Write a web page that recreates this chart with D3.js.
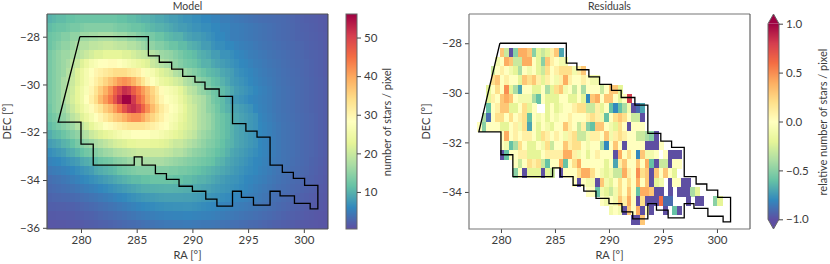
<!DOCTYPE html>
<html><head><meta charset="utf-8">
<script src="https://cdn.jsdelivr.net/npm/d3@7"></script>
<style>
html,body{margin:0;padding:0;background:#fff}
svg{display:block}
text{font-family:Lato,"Noto Sans",sans-serif;fill:#3c3c3c}
</style></head><body><svg id="c" width="830" height="264"></svg>
<script>
const spectralR=["#5e4fa2","#3288bd","#66c2a5","#abdda4","#e6f598","#ffffbf","#fee08b","#fdae61","#f46d43","#d53e4f","#9e0142"];
const raTicks=[280,285,290,295,300];
const decTicks=[-28,-30,-32,-34,-36];
const residDecTicks=[-28,-30,-32,-34];
const modelCbarTicks=[10,20,30,40,50];
const residCbarTicks=[-1,-0.5,0,0.5,1];
const footprintRA=[279.9,286.05,286.05,287.03,287.03,288.14,288.14,289.13,289.13,290.23,290.23,291.13,291.13,292.4,292.4,293.6,293.6,294.8,294.8,295.8,295.8,296.97,296.97,298.07,298.07,299.06,299.06,300.07,300.07,301.26,301.26,300.57,300.57,299.16,299.16,297.87,297.87,296.97,296.97,295.48,295.48,294.4,294.4,293.6,293.6,292.2,292.2,291.2,291.2,290.0,290.0,288.8,288.8,287.67,287.67,286.68,286.68,285.48,285.48,284.78,284.78,281.1,281.1,280,280,277.95,279.9];
const footprintDec=[-28,-28,-28.8,-28.8,-29.07,-29.07,-29.36,-29.36,-29.66,-29.66,-29.9,-29.9,-30.19,-30.19,-30.5,-30.5,-31.64,-31.64,-31.95,-31.95,-32.2,-32.2,-33.38,-33.38,-33.68,-33.68,-33.93,-33.93,-34.22,-34.22,-35.21,-35.21,-34.98,-34.98,-34.66,-34.66,-34.47,-34.47,-35.05,-35.05,-34.73,-34.73,-34.47,-34.47,-35.09,-35.09,-34.8,-34.8,-34.47,-34.47,-34.26,-34.26,-33.97,-33.97,-33.73,-33.73,-33.38,-33.38,-33.03,-33.03,-33.38,-33.38,-32.5,-32.5,-31.58,-31.58,-28];
const pixelRA=0.42, pixelDec=0.375, gridRA0=276.95, gridDec0=-27.05;
const modelCounts=[
[10,10.5,11,11,11.5,11.5,12,12,12,12,12,12,12,12,12,11.5,11.5,11,11,10.5,10,10,9.5,9,9,8.5,8,8,7.5,7,7,6.5,6.5,6,6,5.5,5.5,5,5,4.7,4.5,4.3,4.1,3.9,3.7,3.5,3.4,3.3,3.2,3.1,3,2.8,2.6,2.4,2.2,2,1.9,1.8,1.6,1.5],
[11,11.5,12,12,12.5,13,13,13.5,14,14,14,14,14,14,13.5,13,13,12.5,12,12,11.5,11,10.5,10,10,9.5,9,8.5,8,8,7.5,7,7,6.5,6.5,6,6,5.5,5.5,5,5,4.8,4.6,4.4,4.2,4,3.8,3.6,3.4,3.2,3,2.9,2.7,2.5,2.3,2.2,2,1.9,1.7,1.5],
[12,12.5,13,14,14,15,15,16,16,16.5,16.5,17,17,17,16.5,16,16,15,15,14,13.5,13,13,12,12,11,10.5,10,10,9,8.5,8,8,7.5,7,6.5,6,6,5.5,5,5,4.8,4.6,4.4,4.2,4,3.8,3.6,3.4,3.2,3,2.9,2.7,2.5,2.4,2.3,2.1,2,1.8,1.6],
[12,13,14,15,15,16,17,18,18,19,19,19.5,20,20,19.5,19,19,18,18,17,16,15,15,14,14,13,12,12,11,11,10,9.5,9,8,8,7,6.5,6.5,6,6,5.5,5.2,5,4.8,4.5,4.2,4,3.8,3.6,3.4,3.2,3,2.9,2.7,2.6,2.4,2.2,2.1,1.9,1.6],
[13,14,15,16,16,17,18,19,20,21,22,22,23,23,23,23,22,22,21,20,19.5,19,18,17,16,15.5,15,14,13,12,11.5,11,10,9.5,9,8,8,7,7,6.5,6,5.7,5.4,5,4.8,4.5,4.3,4,3.8,3.6,3.4,3.2,3,2.8,2.7,2.5,2.3,2.2,2,1.7],
[13,14,15,16,17,18.5,20,22,24,26,27,28,28.5,29,29,28,27,26,25,24,23,22,20,19,18,17,16,15,14,13,12.5,12,11,10,10,9,8.5,8,7.5,7,6.5,6,5.8,5.4,5,4.8,4.5,4.2,4,3.8,3.5,3.3,3.1,2.9,2.8,2.6,2.4,2.2,2,1.7],
[13,14,15,16,18,19.5,22,24,26,28,30,31,32,33,34,34,34,33,32,31,29,27,26,24,22,21,20,18,17,16,15,14,13,12,11,10.5,10,9,8.5,8,7,6.5,6.2,5.8,5.4,5,4.7,4.4,4.2,3.9,3.6,3.4,3.2,3,2.8,2.6,2.4,2.2,2,1.7],
[13,14,15,17,18,20,22,24,26,29,31,33,35,37,39,41,42,41,39,36,33,30,28,26,24,23,22,21,20,18,17,16,15,14,13,11.5,11,10,9,8,7.5,7,6.5,6,5.6,5.2,4.9,4.6,4.3,4,3.7,3.5,3.3,3.1,2.9,2.7,2.5,2.3,2.1,1.8],
[13,14,15,17,19,20.5,23,25,27,30,33,36,39,42,46,49,52,51,47,44,41,38,35,32,29,27,26,25,23,21,19,18,16,15,14,12.5,12,11,10,9,8,7.5,7,6.5,6,5.5,5.2,4.8,4.4,4.1,3.8,3.6,3.4,3.1,2.9,2.7,2.5,2.3,2.1,1.8],
[13,14,15,17,19,21,23,25,28,31,34,38,41,44,48,52,56,56,51,46,43,39,36,33,30,28,27,26,24,22,20.5,19,18,17,15,13,12,11,9.5,8,7.5,7,6.5,6,5.7,5.4,5.1,4.8,4.4,4.1,3.8,3.6,3.4,3.1,2.9,2.7,2.5,2.3,2.1,1.8],
[12.5,14,15,16,18,20,22,24,26,29,31,33,36,38,41,44,48,51,52,50,46,42,38,35,32,30,28,27,25,23,21,20,18,17,15,14,12.5,11,10,9,8.5,8,7.5,7,6,5.5,5.2,4.8,4.4,4.1,3.8,3.6,3.4,3.1,2.9,2.7,2.5,2.3,2.1,1.8],
[12,13,14,15,16.5,18.5,20,22,24,26,28,30,32,34,36,37,39,41,42,42,40,37,35,33,31,29,27,26,24,22.5,21,20,18,17,16,14.5,13,12,11,10,9,8.5,8,7.5,7,5.8,5.4,5,4.6,4.2,3.9,3.7,3.5,3.2,3,2.8,2.6,2.4,2.1,1.8],
[11,12,13,14,15,16,18,19,21,23,25,26,28,29,30,31,32,33,33,33,33,32,31,30,29,28,26,25,23,22,21,20,18,17,16,14.5,13,12,11,10,9,8.5,8,7.5,7,6,5.6,5.2,4.8,4.4,4,3.8,3.6,3.3,3,2.8,2.6,2.4,2.1,1.8],
[9.5,10.5,11,12,13,14,15,17,18,20,21,22,23,24,25,26,27,27,28,28,28,28,27,27,26,25,24,23,22,21,20,19,17,16,15,14,13,12,11,10,9,8.5,8,7.5,7,6,5.6,5.2,4.8,4.4,4,3.8,3.6,3.3,3,2.8,2.6,2.4,2.1,1.8],
[8,8.5,9,10,10.5,11.5,13,14,15,16,17,18,19,20,21,21.5,22,23,23,23.5,23.5,23.5,23,23,22.5,22,21,20,20,19,18,17,16,15,14,13.5,12.5,11.5,10.5,10,9,8.5,8,7.5,7,6,5.6,5.2,4.8,4.4,4,3.8,3.6,3.3,3,2.8,2.6,2.4,2.1,1.8],
[6.5,7,7.5,8,9,9.5,10.5,11.5,12.5,13,14,15,16,16.5,17.5,18,18.5,19,19.5,20,20,20,20,20,20,19.5,19,18,18,17,16,15,14.5,14,13,12.5,11.5,11,10,9,8.5,8,7.5,7,6.5,6,5.6,5.2,4.8,4.4,4,3.8,3.6,3.3,3,2.8,2.6,2.4,2.1,1.8],
[5.5,5.8,6,6.5,7,7.5,8,9,9.5,10,11,12,12.5,13,14,14.5,15,16,16,16.5,17,17,17,17,17,16.5,16,15.5,15,14.5,14,13.5,13,12.5,12,11.5,10.5,10,9,8.5,8,7.5,7,6.5,6,5.8,5.4,5,4.6,4.3,4,3.8,3.5,3.2,3,2.8,2.5,2.3,2,1.7],
[4.5,4.8,5,5.3,5.6,6,6.5,7,7.5,8,9,9.5,10,10.5,11,12,12.5,13,13.5,14,14,14,14,14,14,14,13.5,13.5,13,13,12.5,12,11.5,11,10.5,10,9.5,9,8.5,8,7.5,7,6.5,6.3,6,5.5,5.2,4.8,4.4,4.1,3.8,3.6,3.3,3.1,2.9,2.7,2.4,2.2,1.9,1.6],
[3.5,3.8,4,4.3,4.6,5,5.4,5.8,6.2,6.6,7,7.5,8,8.5,9,9.5,10,10.5,11,11,11.5,11.5,12,12,12,12,12,11.5,11.5,11,11,10.5,10,10,9.5,9,8.5,8,7.5,7.2,7,6.5,6,5.8,5.5,5.2,4.9,4.5,4.2,3.9,3.6,3.4,3.1,2.9,2.7,2.5,2.3,2,1.8,1.5],
[3,3.2,3.4,3.6,3.8,4,4.3,4.6,4.9,5.2,5.5,5.9,6.3,6.7,7.1,7.5,7.9,8.3,8.7,9.1,9.5,9.6,9.7,9.8,9.9,10,10,9.9,9.8,9.6,9.5,9.2,9,8.7,8.4,8,7.7,7.4,7.1,6.8,6.5,6.2,5.8,5.5,5.1,4.8,4.5,4.2,3.9,3.6,3.4,3.2,2.9,2.7,2.5,2.3,2.1,1.9,1.6,1.4],
[2.5,2.6,2.7,2.8,2.9,3,3.2,3.5,3.7,4,4.2,4.5,4.8,5.1,5.5,5.8,6.1,6.5,6.8,7.2,7.5,7.7,7.8,8,8.2,8.3,8.3,8.3,8.3,8.2,8.2,8,7.8,7.5,7.3,7,6.8,6.5,6.3,6,5.8,5.5,5.3,5,4.8,4.5,4.2,3.9,3.6,3.4,3.1,2.9,2.7,2.4,2.2,2,1.8,1.6,1.5,1.3],
[2,2,2.1,2.1,2.2,2.2,2.4,2.6,2.8,3,3.2,3.5,3.7,4,4.2,4.5,4.8,5.1,5.4,5.7,6,6.2,6.3,6.5,6.6,6.8,6.8,6.9,6.9,7,7,6.8,6.6,6.4,6.2,6,5.8,5.6,5.4,5.2,5,4.8,4.6,4.4,4.2,4,3.8,3.5,3.3,3,2.8,2.6,2.4,2.2,2,1.8,1.7,1.5,1.4,1.2],
[1.5,1.5,1.6,1.6,1.7,1.7,1.9,2,2.2,2.3,2.5,2.7,2.9,3.1,3.3,3.5,3.7,4,4.2,4.5,4.7,4.9,5,5.2,5.3,5.5,5.5,5.6,5.6,5.7,5.7,5.6,5.5,5.4,5.3,5.2,5,4.8,4.6,4.5,4.3,4.1,3.9,3.8,3.6,3.4,3.2,3,2.8,2.6,2.4,2.2,2.1,1.9,1.8,1.6,1.5,1.3,1.2,1.1],
[1.2,1.2,1.3,1.3,1.4,1.4,1.5,1.6,1.8,1.9,2,2.2,2.3,2.5,2.6,2.8,3,3.2,3.3,3.5,3.7,3.9,4,4.2,4.3,4.5,4.5,4.6,4.6,4.7,4.7,4.6,4.5,4.4,4.4,4.3,4.2,4,3.9,3.7,3.6,3.4,3.3,3.1,3,2.8,2.6,2.5,2.3,2.2,2,1.9,1.8,1.6,1.5,1.4,1.3,1.2,1.1,1]
];
const residualFirstRow=3;
const residualFirstCol=[7,6,5,5,4,4,4,3,2,7,7,7,10,10,23,26,29,31,36];
const residualTenths=[
[3,-3,-10,-5,4,4,3,-5,-2,-3,-2,1,3,-7],
[-1,0,4,3,-3,-3,4,4,0,-2,-5,3,1,0,-1,-1],
[-3,0,1,0,-1,-2,-4,0,-1,0,-2,-3,2,0,1,2,2,2,-1,1,3],
[2,3,0,1,0,0,-2,3,2,3,1,-2,1,0,-1,1,4,1,0,0,1,0,-1,-1],
[-2,0,2,0,5,-2,-4,-7,0,0,-2,-2,0,-4,-2,2,3,-1,0,-3,0,-4,0,0,0,-3,0,3,3,-2],
[-2,1,0,3,4,3,0,-1,-1,-1,-4,-6,0,-2,-2,-2,0,0,-2,-2,0,-2,-8,3,4,0,3,3,0,-2,0,8],
[-6,0,1,3,3,-2,-2,0,2,-2,0,null,null,-2,0,-2,-1,0,0,1,2,2,-3,-3,1,-2,0,-6,-8,-6,-4,-1,-10,-9,-7],
[-4,-9,0,2,2,0,2,0,1,2,-6,0,-1,0,-2,0,-1,0,0,1,0,0,0,1,2,1,-1,-6,0,2,3,2,0,-3,-3,-10],
[0,-5,0,0,0,-2,-2,0,1,-1,2,-7,0,-2,0,-1,-2,0,0,3,1,0,-3,1,-5,-6,3,3,0,-1,-2,2,0,-10,0,0,0],
[0,4,0,1,0,1,1,0,-2,2,1,0,1,0,-1,1,2,-3,-3,-1,1,1,0,3,-1,1,2,1,0,0,-3,-3,-4,-5,-10],
[0,-1,-6,-4,2,0,-2,-2,0,-1,2,-3,0,0,3,1,2,2,0,-1,0,0,-4,-8,0,3,0,-10,0,0,0,0,-10,-10,-10,0],
[-10,-6,0,0,1,1,-2,-2,-2,0,1,1,1,1,4,4,1,-1,0,-2,0,1,0,0,0,-10,4,0,2,0,-8,3,-1,-1,0,null,0,-10,-10,-10],
[0,-3,0,2,1,2,-3,-6,0,0,4,-6,0,2,4,0,0,0,0,0,-2,0,-7,1,3,0,0,3,0,4,-6,-10,-3,-3,-10,0,0],
[-5,0,-10,-2,-2,-2,-10,-2,-3,null,-10,0,0,0,2,4,4,2,0,-1,-2,-1,-3,-3,4,1,0,5,2,3,-10,3,0,3,0,-2],
[0,-10,0,-1,-1,-10,3,-1,-2,0,2,0,2,0,4,0,3,-10,-2,-1,null,-10,0,0,-10,-10],
[0,0,-6,-1,-2,-3,-1,2,0,3,0,-6,4,4,3,-10,-10,null,-10,null,-10,-10,-10,-4,-2],
[0,-1,0,-1,3,1,4,0,-10,2,-10,-10,-10,6,-9,-9,null,null,null,-10,null,-10,-10,null,null,-5,-2],
[-1,0,-1,-10,3,0,4,-10,0,-10,null,null,-10,null,-6,-10],
[-10,-10,3]
];

const svg=d3.select("#c");
const FS=11, TFS=11.5;
const stopsFor=(lo,hi)=>spectralR.map((_,i)=>lo+i*(hi-lo)/(spectralR.length-1));
const modelColor=d3.scaleLinear().domain(stopsFor(0.4,56.1)).range(spectralR);
const residColor=d3.scaleLinear().domain(stopsFor(-10,10)).range(spectralR);
const residCbarColor=d3.scaleLinear().domain(stopsFor(-1,1)).range(spectralR);

function panel(o){
  const x=d3.scaleLinear().domain(o.xd).range([o.l,o.r]);
  const y=d3.scaleLinear().domain(o.yd).range([o.t,o.b]);
  const g=svg.append("g");
  const id="clip"+o.l;
  svg.append("clipPath").attr("id",id).append("rect").attr("x",o.l).attr("y",o.t).attr("width",o.r-o.l).attr("height",o.b-o.t);
  o.draw(g.append("g").attr("clip-path",`url(#${id})`).attr("shape-rendering","crispEdges"),x,y);
  g.append("path").attr("d",d3.line().x(i=>x(footprintRA[i])).y(i=>y(footprintDec[i]))(d3.range(footprintRA.length)))
    .attr("fill","none").attr("stroke","#000").attr("stroke-width",1.3).attr("stroke-linejoin","miter");
  const ax=g.append("g").attr("transform",`translate(0,${o.b})`).call(d3.axisBottom(x).tickValues(raTicks).tickSize(4).tickPadding(3).tickFormat(d3.format("d")));
  const ay=g.append("g").attr("transform",`translate(${o.l},0)`).call(d3.axisLeft(y).tickValues(o.yt).tickSize(4).tickPadding(3).tickFormat(d=>"\u2212"+Math.abs(d)));
  [ax,ay].forEach(a=>{a.select(".domain").remove();a.selectAll("line").attr("stroke","#444");a.selectAll("text").attr("font-size",TFS).style("fill","#3c3c3c");a.attr("font-family",null)});
  g.append("path").attr("d",`M${o.l},${o.t}H${o.r}`).attr("fill","none").attr("stroke",o.spineA).attr("stroke-width",1.2);
  g.append("path").attr("d",`M${o.r},${o.t}V${o.b}`).attr("fill","none").attr("stroke","#444").attr("stroke-width",1);
  g.append("path").attr("d",`M${o.l},${o.t}V${o.b}H${o.r}`).attr("fill","none").attr("stroke",o.spineA).attr("stroke-width",1.2);
  g.append("text").attr("x",(o.l+o.r)/2).attr("y",10).attr("text-anchor","middle").attr("font-size",10.5).text(o.title);
  g.append("text").attr("x",(o.l+o.r)/2).attr("y",259).attr("text-anchor","middle").attr("font-size",FS).text("RA [°]");
  g.append("text").attr("transform",`translate(${o.yl},${(o.t+o.b)/2}) rotate(-90)`).attr("text-anchor","middle").attr("font-size",FS).text("DEC [°]");
}

panel({l:47,r:328,t:14,b:229,xd:[276.95,302.17],yd:[-27.05,-36.05],yt:decTicks,title:"Model",yl:11,spineA:"#555",
  draw(g,x,y){
    const cells=modelCounts.flatMap((row,i)=>row.map((v,j)=>({i,j,v})));
    g.selectAll("rect").data(cells).join("rect")
      .attr("x",d=>x(gridRA0+pixelRA*d.j)).attr("y",d=>y(gridDec0-pixelDec*d.i))
      .attr("width",d=>x(gridRA0+pixelRA*(d.j+1))-x(gridRA0+pixelRA*d.j)+0.6)
      .attr("height",d=>y(gridDec0-pixelDec*(d.i+1))-y(gridDec0-pixelDec*d.i)+0.6)
      .attr("fill",d=>modelColor(d.v));
  }});
panel({l:469,r:750,t:14,b:229,xd:[277.04,303.06],yd:[-26.82,-35.495],yt:residDecTicks,title:"Residuals",yl:430,spineA:"#777",
  draw(g,x,y){
    const cells=residualTenths.flatMap((row,r)=>row.map((v,c)=>({i:r+residualFirstRow,j:c+residualFirstCol[r],v}))).filter(d=>d.v!==null);
    g.selectAll("rect").data(cells).join("rect")
      .attr("x",d=>x(gridRA0+pixelRA*d.j)).attr("y",d=>y(gridDec0-pixelDec*d.i))
      .attr("width",d=>x(gridRA0+pixelRA*(d.j+1))-x(gridRA0+pixelRA*d.j)+0.5)
      .attr("height",d=>y(gridDec0-pixelDec*(d.i+1))-y(gridDec0-pixelDec*d.i)+0.5)
      .attr("fill",d=>residColor(d.v));
  }});

function colorbar(o){
  const y=d3.scaleLinear().domain(o.d).range([o.b,o.t]);
  const g=svg.append("g");
  const px=d3.range(o.t,o.b);
  g.append("g").attr("shape-rendering","crispEdges").selectAll("rect").data(px).join("rect")
    .attr("x",o.l).attr("width",o.r-o.l).attr("y",d=>d).attr("height",1.2).attr("fill",d=>o.c(y.invert(d+0.5)));
  const m=(o.l+o.r)/2;
  if(o.ext){
    g.append("path").attr("d",`M${o.l},${o.t}L${m},${o.t-o.ext}L${o.r},${o.t}Z`).attr("fill",spectralR[10]);
    g.append("path").attr("d",`M${o.l},${o.b}L${m},${o.b+o.ext}L${o.r},${o.b}Z`).attr("fill",spectralR[0]);
    g.append("path").attr("d",`M${o.l},${o.t}L${m},${o.t-o.ext}L${o.r},${o.t}V${o.b}L${m},${o.b+o.ext}L${o.l},${o.b}Z`).attr("fill","none").attr("stroke","#666").attr("stroke-width",1);
  }else{
    g.append("rect").attr("x",o.l).attr("y",o.t).attr("width",o.r-o.l).attr("height",o.b-o.t).attr("fill","none").attr("stroke","#666").attr("stroke-width",1);
  }
  const a=g.append("g").attr("transform",`translate(${o.r},0)`).call(d3.axisRight(y).tickValues(o.ticks).tickSize(4).tickPadding(3).tickFormat(o.f));
  a.select(".domain").remove();a.attr("font-family",null);a.selectAll("line").attr("stroke","#444");a.selectAll("text").attr("font-size",TFS).style("fill","#3c3c3c");
  g.append("text").attr("transform",`translate(${o.lx},${o.ly}) rotate(-90)`).attr("text-anchor","middle").attr("font-size",FS).text(o.label);
}
colorbar({l:346,r:357,t:14,b:229,d:[0.4,56.1],c:modelColor,ticks:modelCbarTicks,f:d3.format("d"),label:"number of stars / pixel",lx:391,ly:122});
colorbar({l:768,r:779,t:23.7,b:219.3,ext:9.7,d:[-1,1],c:residCbarColor,ticks:residCbarTicks,f:d=>(d<0?"\u2212":"")+Math.abs(d).toFixed(1),label:"relative number of stars / pixel",lx:827,ly:122});
</script></body></html>
